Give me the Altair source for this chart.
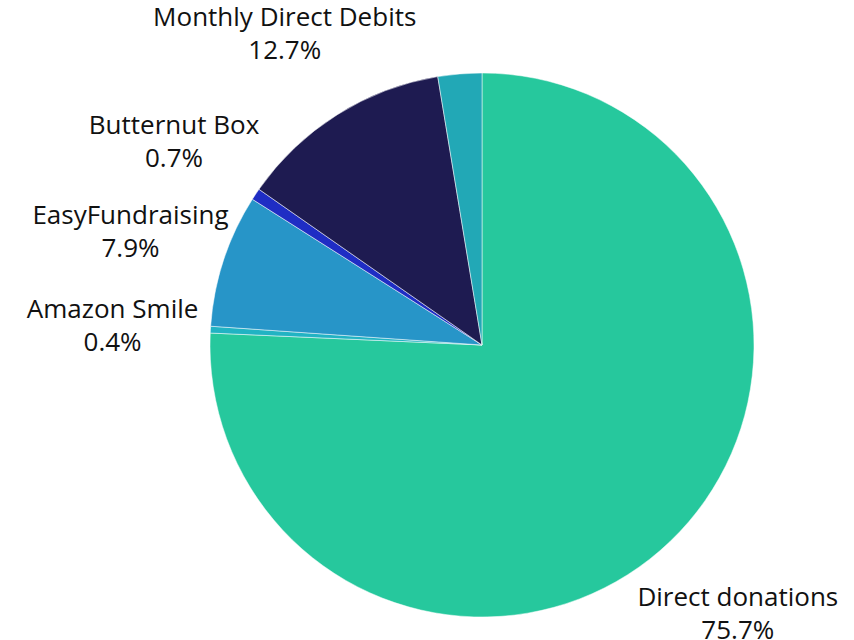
import altair as alt
import pandas as pd

categories = ["Direct donations", "Amazon Smile", "EasyFundraising", "Butternut Box",
              "Monthly Direct Debits", "Other"]
shares = [75.7, 0.4, 7.9, 0.7, 12.7, 2.6]
show_label = [True, True, True, True, True, False]
colors = ["#26C89D", "#21B3C3", "#2795C8", "#1F2DC4", "#1E1B51", "#22A8B6"]

labels = [f"{c}\n{v:.1f}%" if s else "" for c, v, s in zip(categories, shares, show_label)]
df = pd.DataFrame({"category": categories, "share": shares, "label": labels,
                   "idx": list(range(len(categories)))})

base = alt.Chart(df).encode(
    theta=alt.Theta("share:Q", stack=True),
    order=alt.Order("idx:Q"),
    x=alt.value(482),
    y=alt.value(345),
)

arcs = base.mark_arc(radius=272, stroke="#ffffff", strokeWidth=0.5).encode(
    color=alt.Color("category:N", scale=alt.Scale(domain=categories, range=colors), legend=None)
)

text = base.mark_text(radius=370, dy=-14, font="Open Sans", fontSize=26, lineBreak="\n",
                      lineHeight=33, align="center", baseline="middle", color="#111111").encode(
    text="label:N"
)

chart = (arcs + text).properties(
    width=854, height=640, padding=0,
    autosize=alt.AutoSizeParams(type="none"),
).configure_view(stroke=None)

chart.save("out.html", embed_options={"renderer": "svg", "actions": False})
